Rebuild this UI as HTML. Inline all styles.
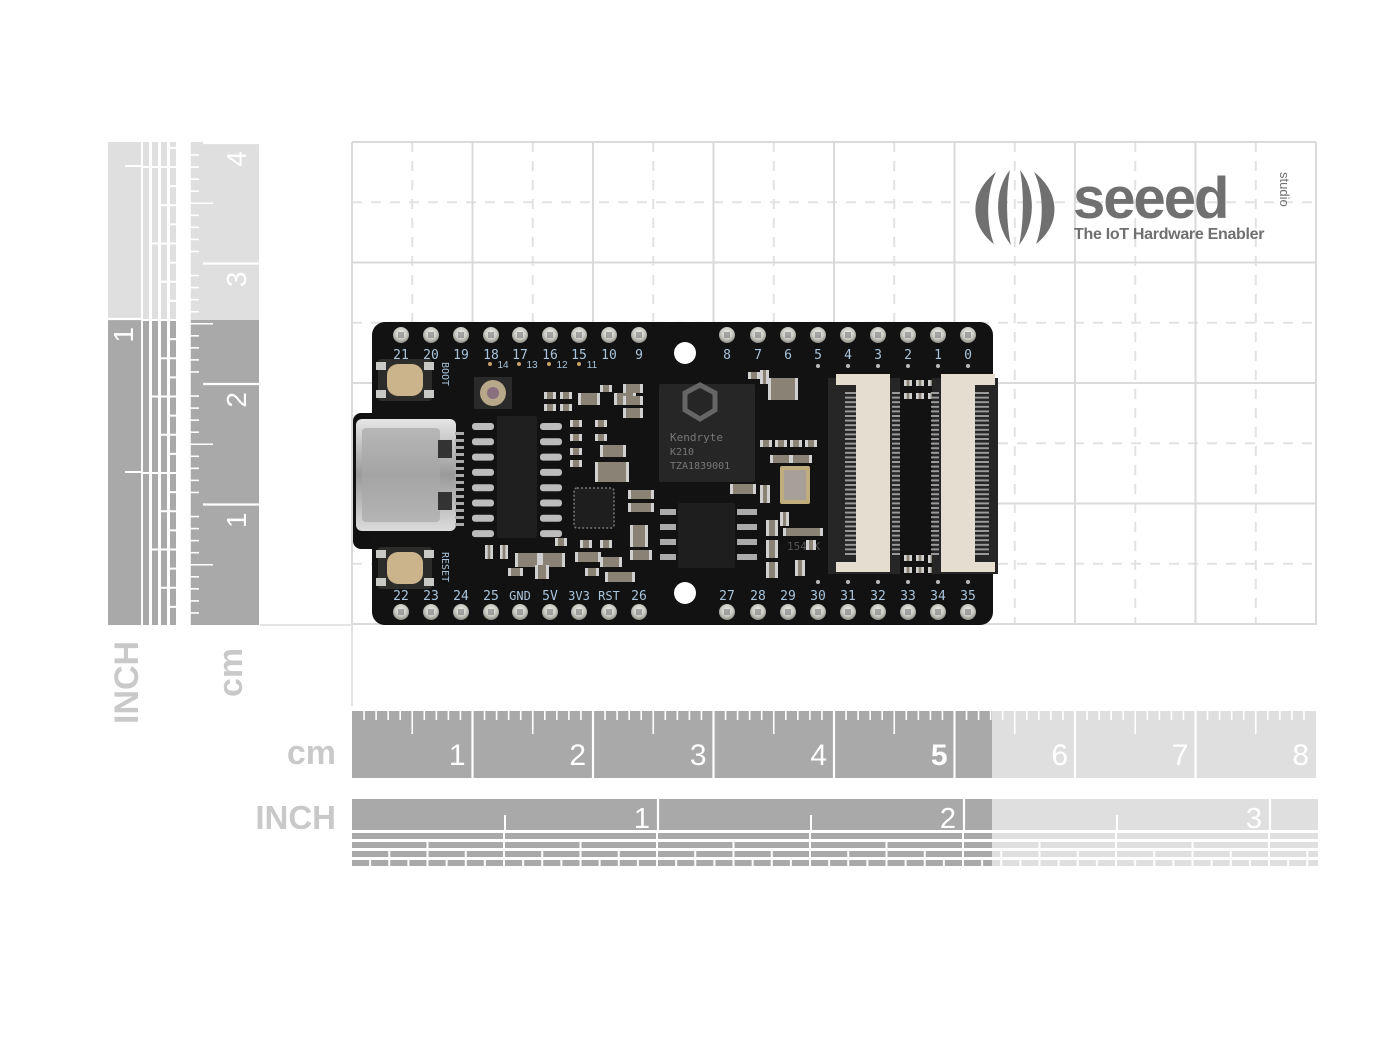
<!DOCTYPE html>
<html><head><meta charset="utf-8"><style>
html,body{margin:0;padding:0;background:#fff;width:1400px;height:1051px;overflow:hidden}
svg{display:block}
</style></head><body>
<svg id="s" width="1400" height="1051" viewBox="0 0 1400 1051" xmlns="http://www.w3.org/2000/svg" font-family="Liberation Sans, sans-serif">
<defs>
<radialGradient id="pin" cx="50%" cy="40%" r="60%"><stop offset="0" stop-color="#f2f2ee"/><stop offset="0.6" stop-color="#c9c9c2"/><stop offset="1" stop-color="#8d8d86"/></radialGradient>
<linearGradient id="usb" x1="0" y1="0" x2="0" y2="1"><stop offset="0" stop-color="#e6e6e6"/><stop offset="0.5" stop-color="#9a9a9a"/><stop offset="1" stop-color="#dcdcdc"/></linearGradient>
</defs>
<g id="grid"></g>
<g id="rulers"></g>
<text x="336" y="764" font-size="34" font-weight="bold" fill="#c9c9c9" text-anchor="end">cm</text>
<text x="336" y="829" font-size="33" font-weight="bold" fill="#c9c9c9" text-anchor="end">INCH</text>
<text transform="translate(138,724) rotate(-90)" font-size="34" font-weight="bold" fill="#c9c9c9">INCH</text>
<text transform="translate(242,697) rotate(-90)" font-size="34" font-weight="bold" fill="#c9c9c9">cm</text>
<g fill="#707070">
<path d="M996 172 C970 192 968 224 994 244 C986 224 986 192 996 172Z"/>
<path d="M1010 170 C994 190 994 224 1011 245 C1006 224 1006 190 1010 170Z"/>
<path d="M1020 170 C1036 190 1036 224 1019 245 C1024 224 1024 190 1020 170Z"/>
<path d="M1034 172 C1060 192 1062 224 1036 244 C1044 224 1044 192 1034 172Z"/>
<text x="1073" y="218" font-size="58" font-weight="bold" letter-spacing="-2">seeed</text>
<text transform="translate(1280,172) rotate(90)" font-size="13">studio</text>
<text x="1074" y="239" font-size="16" font-weight="bold" letter-spacing="-0.3">The IoT Hardware Enabler</text>
</g>
<g id="board"></g>
</svg>
<script>
var NS="http://www.w3.org/2000/svg";
function el(p,t,a,txt){var e=document.createElementNS(NS,t);for(var k in a)e.setAttribute(k,a[k]);if(txt!=null)e.textContent=txt;p.appendChild(e);return e;}
var G=document.getElementById('grid'),R=document.getElementById('rulers'),B=document.getElementById('board');
var cm=120.5;
for(var i=0;i<8;i++){var x=352+cm*(i+0.5);el(G,'line',{x1:x,y1:142,x2:x,y2:625,stroke:'#e2e2e2','stroke-width':2,'stroke-dasharray':'10 9'});}
for(var j=0;j<4;j++){var y=142+cm*(j+0.5);el(G,'line',{x1:352,y1:y,x2:1316,y2:y,stroke:'#e2e2e2','stroke-width':2,'stroke-dasharray':'10 9'});}
for(var i=0;i<=8;i++){var x=352+cm*i;el(G,'line',{x1:x,y1:142,x2:x,y2:625,stroke:'#dadada','stroke-width':2});}
for(var j=0;j<=4;j++){var y=142+cm*j;el(G,'line',{x1:352,y1:y,x2:1316,y2:y,stroke:'#dadada','stroke-width':2});}
el(G,'line',{x1:260,y1:625,x2:352,y2:625,stroke:'#e4e4e4','stroke-width':2});
el(G,'line',{x1:352,y1:625,x2:352,y2:706,stroke:'#e4e4e4','stroke-width':2});
var D='#a8a9a8',L='#dfdfdf';
el(R,'rect',{x:352,y:711,width:640,height:67,fill:D});
el(R,'rect',{x:992,y:711,width:324,height:67,fill:L});
for(var k=1;k<80;k++){var x=352+k*cm/10;var len=(k%10==0)?0:(k%5==0?23:9);if(len)el(R,'line',{x1:x,y1:711,x2:x,y2:711+len,stroke:'#fff','stroke-width':1.6});}
for(var c=1;c<=8;c++){var x=352+c*cm;if(c<8)el(R,'line',{x1:x,y1:711,x2:x,y2:778,stroke:'#fff','stroke-width':2.2});
 el(R,'text',{x:x-7,y:765,'font-size':30,fill:'#fff','text-anchor':'end','font-weight':c==5?'bold':'normal'},String(c));}
var inch=306;
el(R,'rect',{x:352,y:799,width:640,height:31,fill:D});
el(R,'rect',{x:992,y:799,width:326,height:31,fill:L});
for(var n=1;n<=3;n++){var x=352+n*inch;el(R,'line',{x1:x,y1:799,x2:x,y2:830,stroke:'#fff','stroke-width':2.2});el(R,'text',{x:x-8,y:828,'font-size':29,fill:'#fff','text-anchor':'end'},String(n));}
for(var n=0;n<3;n++){var x=352+(n+0.5)*inch;el(R,'line',{x1:x,y1:815,x2:x,y2:830,stroke:'#fff','stroke-width':2});}
var rows=[[833,6,2],[842,6,4],[851,6,8],[860,6,16]];
rows.forEach(function(r){var w=inch/r[2];for(var x=352;x<1318;x+=w){var x2=Math.min(x+w-2,1318);
 if(x<992&&x2>992){el(R,'rect',{x:x,y:r[0],width:992-x,height:r[1],fill:D});el(R,'rect',{x:992,y:r[0],width:x2-992,height:r[1],fill:L});}
 else el(R,'rect',{x:x,y:r[0],width:x2-x,height:r[1],fill:x<992?D:L});}});
var cut=320;
el(R,'rect',{x:108,y:142,width:33,height:cut-142,fill:L});
el(R,'rect',{x:108,y:cut,width:33,height:625-cut,fill:D});
el(R,'line',{x1:108,y1:625-inch,x2:141,y2:625-inch,stroke:'#fff','stroke-width':2.2});
el(R,'text',{transform:'translate(133,'+(625-inch+8)+') rotate(-90)','font-size':28,fill:'#fff','text-anchor':'end'},'1');
[0.5,1.5].forEach(function(f){var y=625-f*inch;el(R,'line',{x1:125,y1:y,x2:141,y2:y,stroke:'#fff','stroke-width':2});});
var cols=[[143,6,2],[152,6,4],[161,6,8],[170,6,16]];
cols.forEach(function(c){var h=inch/c[2];for(var y=625;y>142;y-=h){var y1=Math.max(y-h+2,142);
 if(y>cut&&y1<cut){el(R,'rect',{x:c[0],y:cut,width:c[1],height:y-cut,fill:D});el(R,'rect',{x:c[0],y:y1,width:c[1],height:cut-y1,fill:L});}
 else el(R,'rect',{x:c[0],y:y1,width:c[1],height:y-y1,fill:y>cut?D:L});}});
el(R,'rect',{x:190,y:142,width:69,height:cut-142,fill:L});
el(R,'rect',{x:190,y:cut,width:69,height:625-cut,fill:D});
for(var k=1;k<41;k++){var y=625-k*cm/10;if(y<142)break;var len=(k%10==0)?0:(k%5==0?23:9);if(len)el(R,'line',{x1:190,y1:y,x2:190+len,y2:y,stroke:'#fff','stroke-width':1.6});}
el(R,'line',{x1:190,y1:142,x2:190,y2:625,stroke:'#fff','stroke-width':1.5});
for(var c=1;c<=4;c++){var y=625-c*cm;el(R,'line',{x1:203,y1:y,x2:259,y2:y,stroke:'#fff','stroke-width':2.2});
 el(R,'text',{transform:'translate(246,'+(y+8)+') rotate(-90)','font-size':28,fill:'#fff','text-anchor':'end'},String(c));}
el(B,'rect',{x:353,y:413,width:30,height:136,rx:8,fill:'#111'});
el(B,'rect',{x:372,y:322,width:621,height:303,rx:13,fill:'#121212'});
var topX=[401,431,461,491,520,550,579,609,639,727,758,788,818,848,878,908,938,968];
var topL=['21','20','19','18','17','16','15','10','9','8','7','6','5','4','3','2','1','0'];
var botL=['22','23','24','25','GND','5V','3V3','RST','26','27','28','29','30','31','32','33','34','35'];
topX.forEach(function(x,i){
 el(B,'circle',{cx:x,cy:335,r:8,fill:'url(#pin)'});el(B,'rect',{x:x-3,y:332,width:6,height:6,fill:'#777',opacity:0.6});
 el(B,'circle',{cx:x,cy:612,r:8,fill:'url(#pin)'});el(B,'rect',{x:x-3,y:609,width:6,height:6,fill:'#777',opacity:0.6});
 el(B,'text',{x:x,y:359,'font-size':13,fill:'#a9c4dc','text-anchor':'middle','font-family':'DejaVu Sans Mono, monospace'},topL[i]);
 el(B,'text',{x:x,y:600,'font-size':botL[i].length>2?12:13,fill:'#a9c4dc','text-anchor':'middle','font-family':'DejaVu Sans Mono, monospace'},botL[i]);
});
[[497,368,'14'],[526,368,'13'],[556,368,'12'],[586,368,'11']].forEach(function(a){el(B,'circle',{cx:a[0]-7,cy:a[1]-4,r:2,fill:'#c9a36a'});el(B,'text',{x:a[0]+6,y:a[1],'font-size':10,fill:'#a9c4dc','text-anchor':'middle'},a[2]);});
[818,848,878,908,938,968].forEach(function(x){el(B,'circle',{cx:x,cy:366,r:2,fill:'#bbb'});el(B,'circle',{cx:x,cy:582,r:2,fill:'#bbb'});});
el(B,'circle',{cx:685,cy:353,r:11,fill:'#fff'});el(B,'circle',{cx:685,cy:593,r:11,fill:'#fff'});
function btn(y){el(B,'rect',{x:378,y:y,width:54,height:42,rx:3,fill:'#2c2c2a'});
 [[376,y+3],[424,y+3],[376,y+31],[424,y+31]].forEach(function(p){el(B,'rect',{x:p[0],y:p[1],width:10,height:8,fill:'#c8c8c4'});});
 el(B,'rect',{x:387,y:y+5,width:36,height:32,rx:11,fill:'#cbb48c'});}
btn(359);btn(547);
el(B,'text',{transform:'translate(442,362) rotate(90)','font-size':10,fill:'#a9c4dc','font-family':'DejaVu Sans Mono, monospace'},'BOOT');
el(B,'text',{transform:'translate(442,552) rotate(90)','font-size':10,fill:'#a9c4dc','font-family':'DejaVu Sans Mono, monospace'},'RESET');
el(B,'rect',{x:356,y:419,width:100,height:112,rx:6,fill:'url(#usb)'});
el(B,'rect',{x:362,y:428,width:78,height:94,rx:4,fill:'#a8a8a8',opacity:0.7});
el(B,'rect',{x:438,y:440,width:14,height:18,fill:'#333'});el(B,'rect',{x:438,y:492,width:14,height:18,fill:'#333'});
for(var k=0;k<14;k++)el(B,'rect',{x:455,y:432+k*7,width:9,height:3,fill:'#aaa'});
el(B,'rect',{x:474,y:377,width:38,height:32,fill:'#2a2a2a'});el(B,'circle',{cx:493,cy:393,r:13,fill:'#b8a88a'});el(B,'circle',{cx:493,cy:393,r:6,fill:'#8a6f7f'});
el(B,'rect',{x:497,y:416,width:40,height:122,rx:2,fill:'#1f1f1f'});
for(var k=0;k<8;k++){var y=423+k*15.3;el(B,'rect',{x:472,y:y,width:22,height:7,rx:3,fill:'#bcbcbc'});el(B,'rect',{x:540,y:y,width:22,height:7,rx:3,fill:'#bcbcbc'});}
el(B,'rect',{x:574,y:488,width:40,height:40,rx:3,fill:'#1e1e1e',stroke:'#777','stroke-width':1.5,'stroke-dasharray':'2 2'});
el(B,'rect',{x:659,y:384,width:96,height:98,rx:2,fill:'#262626'});
el(B,'polygon',{points:'685,393 700,385 715,393 715,410 700,419 685,410',fill:'none',stroke:'#666','stroke-width':5});
el(B,'text',{x:670,y:441,'font-size':11,fill:'#777','font-family':'DejaVu Sans Mono, monospace'},'Kendryte');
el(B,'text',{x:670,y:455,'font-size':10,fill:'#777','font-family':'DejaVu Sans Mono, monospace'},'K210');
el(B,'text',{x:670,y:469,'font-size':10,fill:'#777','font-family':'DejaVu Sans Mono, monospace'},'TZA1839001');
el(B,'rect',{x:678,y:503,width:57,height:65,rx:2,fill:'#1e1e1e'});
for(var k=0;k<4;k++){el(B,'rect',{x:737,y:509+k*15,width:20,height:6,fill:'#aaa'});el(B,'rect',{x:660,y:509+k*15,width:16,height:6,fill:'#aaa'});}
el(B,'rect',{x:780,y:466,width:30,height:38,rx:2,fill:'#bfae7c'});el(B,'rect',{x:784,y:470,width:22,height:30,fill:'#a8a098'});
el(B,'text',{x:787,y:550,'font-size':11,fill:'#555','font-family':'DejaVu Sans Mono, monospace'},'154FK');
var sm=[[544,392,12,7],[560,392,12,7],[544,404,12,7],[560,404,12,7],[600,385,12,7],[578,393,22,12],[614,393,22,12],[623,384,20,9],[623,396,20,9],[623,408,20,10],
[570,420,12,7],[595,420,12,7],[570,434,12,7],[595,434,12,7],[570,448,12,7],[600,445,26,12],[595,462,34,20],[570,460,12,7],
[628,490,26,9],[628,503,26,9],[580,540,12,8],[600,540,12,8],[575,552,26,10],[630,525,18,22],[630,550,22,10],[600,557,22,10],[605,572,30,10],
[485,545,8,14],[500,545,8,14],[515,553,25,14],[540,553,25,14],[555,538,12,8],[585,568,14,8],[508,568,15,8],[535,565,14,14],
[748,372,12,7],[760,370,9,14],[768,378,30,22],[760,440,12,7],[775,440,12,7],[790,440,12,7],[805,440,12,7],[770,455,22,8],[790,455,22,8],
[730,484,26,10],[760,485,10,18],[780,512,9,14],[783,528,40,8],[766,520,12,16],[766,540,12,18],[766,562,12,16],[795,560,10,16],[806,540,10,10],
[904,380,8,6],[916,380,8,6],[928,380,8,6],[904,393,8,6],[916,393,8,6],[928,393,8,6],[904,555,8,6],[916,555,8,6],[928,555,8,8],[904,567,8,6],[916,567,8,6],[928,567,8,6]];
sm.forEach(function(r){el(B,'rect',{x:r[0],y:r[1],width:r[2],height:r[3],fill:'#8a8274'});el(B,'rect',{x:r[0],y:r[1],width:Math.min(3,r[2]/3),height:r[3],fill:'#d0d0d0'});el(B,'rect',{x:r[0]+r[2]-Math.min(3,r[2]/3),y:r[1],width:Math.min(3,r[2]/3),height:r[3],fill:'#d0d0d0'});});
el(B,'rect',{x:828,y:378,width:72,height:196,fill:'#262626'});
el(B,'polygon',{points:'836,374 890,374 890,572 836,572 836,562 856,562 856,385 836,385',fill:'#e4ddd0'});
for(var k=0;k<36;k++){var y=392+k*4.6;el(B,'rect',{x:845,y:y,width:11,height:2,fill:'#9a9a9a'});el(B,'rect',{x:892,y:y,width:8,height:2,fill:'#9a9a9a'});}
el(B,'rect',{x:932,y:378,width:66,height:196,fill:'#262626'});
el(B,'polygon',{points:'941,374 995,374 995,385 975,385 975,562 995,562 995,572 941,572',fill:'#e4ddd0'});
for(var k=0;k<36;k++){var y=392+k*4.6;el(B,'rect',{x:975,y:y,width:14,height:2,fill:'#9a9a9a'});el(B,'rect',{x:931,y:y,width:8,height:2,fill:'#9a9a9a'});}
</script>
</body></html>
